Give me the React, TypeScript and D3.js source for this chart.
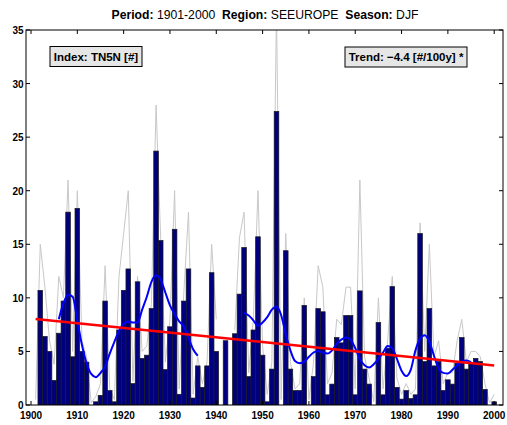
import React from 'react';
import * as d3 from 'd3';

// yearly index values (bars), null = missing year
const years: number[] = d3.range(1901, 2001);
const barValues: (number | null)[] = [
  0, 10.7, 6.4, 5.0, 2.3, 6.7, 9.7, 18.0, 4.5, 18.35,
  5.0, 4.0, 0, 0.3, 0.9, 9.7, 1.35, 0.3, 7.0, 10.7,
  12.7, 2.0, 11.5, 4.35, 4.65, 9.0, 23.7, 15.35, 3.3, 7.3,
  16.4, 1.0, 9.7, 12.7, 0.65, 3.65, 1.65, 3.65, 12.35, 5.0,
  null, 6.0, null, 6.65, 10.35, 14.7, 2.65, 7.0, 15.7, 4.65,
  0.3, 3.35, 27.4, 0, 14.4, 3.35, 1.35, 1.35, 9.3, 0,
  2.65, 9.0, 8.7, 0.95, 1.95, 6.3, 5.8, 8.35, 8.35, 0.95,
  10.65, 3.35, 1.95, 0, 7.7, 0.95, 5.3, 11.05, 1.65, 0.55,
  1.35, 0.6, 0.95, 16.0, 4.05, 9.0, 3.65, 4.05, 1.35, 2.35,
  1.95, 3.9, 6.3, 3.35, 3.9, 4.35, 4.05, 1.45, 0, 0.3,
];

// thin grey series behind the bars
const greyValues: (number | null)[] = [
  0.5, 15.0, 11.0, 6.0, 3.8, 12.0, 10.0, 21.0, 5.0, 20.0,
  6.0, 4.5, 0.2, 0.8, 2.0, 13.0, 1.5, 0.5, 12.0, 16.0,
  20.0, 2.2, 12.0, 5.0, 5.5, 9.5, 28.0, 15.5, 4.0, 8.0,
  20.0, 1.5, 10.5, 18.0, 1.0, 4.5, 2.0, 4.0, 15.0, 8.0,
  null, 6.5, null, 7.0, 15.6, 18.0, 3.0, 8.0, 20.0, 5.5,
  1.0, 4.0, 37.0, 0.5, 16.0, 4.0, 1.5, 2.0, 10.0, 0.5,
  4.0, 13.0, 11.0, 2.0, 3.0, 8.0, 7.5, 11.0, 11.0, 1.5,
  21.0, 4.5, 2.5, 0.3, 10.0, 1.5, 6.0, 12.0, 2.5, 1.0,
  2.0, 1.0, 1.5, 17.0, 5.0, 15.0, 4.5, 6.0, 2.0, 3.0,
  3.0, 6.0, 8.0, 4.0, 5.0, 5.0, 4.5, 2.0, 0.2, 1.0,
];

// smoothed curve (blue), two segments around the 1940s gap
const smoothYears1: number[] = d3.range(1906, 1937);
const smoothValues1: number[] = [
  8.0, 9.5, 10.3, 10.1, 7.9, 5.6, 3.9, 2.9, 2.6, 3.0,
  3.6, 4.8, 5.9, 6.9, 7.6, 7.8, 7.7, 7.7, 8.9, 10.1,
  11.5, 12.1, 11.7, 10.5, 9.3, 8.5, 7.8, 7.3, 6.3, 5.2,
  4.6,
];
const smoothYears2: number[] = d3.range(1946, 1996);
const smoothValues2: number[] = [
  8.6, 8.35, 7.9, 7.4, 7.7, 8.2, 8.9, 9.2, 8.4, 6.6,
  5.1, 4.1, 3.9, 4.05, 4.5, 4.9, 5.05, 4.9, 4.8, 5.1,
  5.7, 6.1, 6.3, 6.1, 5.3, 4.3, 3.7, 3.5, 3.8, 4.3,
  4.9, 5.5, 5.3, 4.3, 3.2, 2.7, 3.3, 5.1, 6.2, 6.5,
  5.9, 4.6, 3.4, 3.0, 2.95, 3.3, 3.7, 4.05, 4.15, 4.0,
];

// linear trend
const trendYears: number[] = [1901, 2000];
const trendValues: number[] = [8.03, 3.68];

const xTicks: number[] = d3.range(1900, 2001, 10);
const yTicks: number[] = d3.range(0, 36, 5);

const W = 507;
const H = 425;
const plot = { left: 26, right: 503, top: 30, bottom: 405 };
const font = '"Liberation Sans", Arial, Helvetica, sans-serif';

const App: React.FC = () => {
  const x = d3.scaleLinear().domain([1898.92, 2001.9]).range([plot.left, plot.right]);
  const y = d3.scaleLinear().domain([0, 35]).range([plot.bottom, plot.top]);
  const bw = x(1901) - x(1900);

  const line = d3.line<[number, number | null]>()
    .defined(d => d[1] !== null)
    .x(d => x(d[0]))
    .y(d => y(d[1] as number));

  const smoothLine = d3.line<[number, number]>()
    .x(d => x(d[0]))
    .y(d => y(d[1]))
    .curve(d3.curveMonotoneX);

  const greyPts = years.map((yr, i) => [yr, greyValues[i]] as [number, number | null]);
  const s1 = smoothYears1.map((yr, i) => [yr, smoothValues1[i]] as [number, number]);
  const s2 = smoothYears2.map((yr, i) => [yr, smoothValues2[i]] as [number, number]);
  const trend = trendYears.map((yr, i) => [yr, trendValues[i]] as [number, number]);

  return (
    <div style={{ position: 'fixed', left: 0, top: 0 }}>
      <svg width={W} height={H} style={{ display: 'block', background: '#fff' }} fontFamily={font}>
        <defs>
          <clipPath id="plotClip">
            <rect x={plot.left} y={plot.top} width={plot.right - plot.left} height={plot.bottom - plot.top} />
          </clipPath>
        </defs>

        {/* title */}
        <text x={265} y={18.5} textAnchor="middle" fontSize={12.2} fill="#000" style={{ whiteSpace: 'pre' }}>
          <tspan fontWeight="bold">Period:</tspan>
          <tspan>{' 1901-2000  '}</tspan>
          <tspan fontWeight="bold">Region:</tspan>
          <tspan>{' SEEUROPE  '}</tspan>
          <tspan fontWeight="bold">Season:</tspan>
          <tspan>{' DJF'}</tspan>
        </text>

        <g clipPath="url(#plotClip)">
          <path d={line(greyPts) || ''} fill="none" stroke="#c8c8c8" strokeWidth={1} />
          {years.map((yr, i) => {
            const v = barValues[i];
            if (v === null || v <= 0) return null;
            return (
              <rect
                key={yr}
                x={x(yr) - bw / 2}
                y={y(v)}
                width={bw}
                height={y(0) - y(v)}
                fill="#00007f"
                stroke="#1a1a1a"
                strokeWidth={0.7}
              />
            );
          })}
          <path d={smoothLine(s1) || ''} fill="none" stroke="#0000ff" strokeWidth={2} />
          <path d={smoothLine(s2) || ''} fill="none" stroke="#0000ff" strokeWidth={2} />
          <path d={d3.line<[number, number]>().x(d => x(d[0])).y(d => y(d[1]))(trend) || ''}
            fill="none" stroke="#ff0000" strokeWidth={2.5} />
        </g>

        {/* frame */}
        <rect x={plot.left} y={plot.top} width={plot.right - plot.left} height={plot.bottom - plot.top}
          fill="none" stroke="#000" strokeWidth={1} />

        {/* x ticks */}
        {xTicks.map(t => (
          <g key={t}>
            <line x1={x(t)} x2={x(t)} y1={plot.bottom} y2={plot.bottom - 4} stroke="#000" />
            <line x1={x(t)} x2={x(t)} y1={plot.top} y2={plot.top + 4} stroke="#000" />
            <text x={x(t)} y={418.5} textAnchor="middle" fontSize={10} fontWeight="bold">{t}</text>
          </g>
        ))}

        {/* y ticks */}
        {yTicks.map(t => (
          <g key={t}>
            <line x1={plot.left} x2={plot.left + 4} y1={y(t)} y2={y(t)} stroke="#000" />
            <line x1={plot.right} x2={plot.right - 4} y1={y(t)} y2={y(t)} stroke="#000" />
            <text x={23.5} y={y(t) + 4} textAnchor="end" fontSize={10} fontWeight="bold">{t}</text>
          </g>
        ))}

        {/* annotation boxes */}
        <rect x={50} y={46.5} width={92} height={20} fill="#e6e6e6" stroke="#000" strokeWidth={1} />
        <text x={96} y={60.5} textAnchor="middle" fontSize={11.5} fontWeight="bold">Index: TN5N [#]</text>

        <rect x={345} y={47} width={122} height={20} fill="#e6e6e6" stroke="#000" strokeWidth={1} />
        <text x={406} y={61} textAnchor="middle" fontSize={11.5} fontWeight="bold">Trend: −4.4 [#/100y] *</text>
      </svg>
    </div>
  );
};

export default App;
